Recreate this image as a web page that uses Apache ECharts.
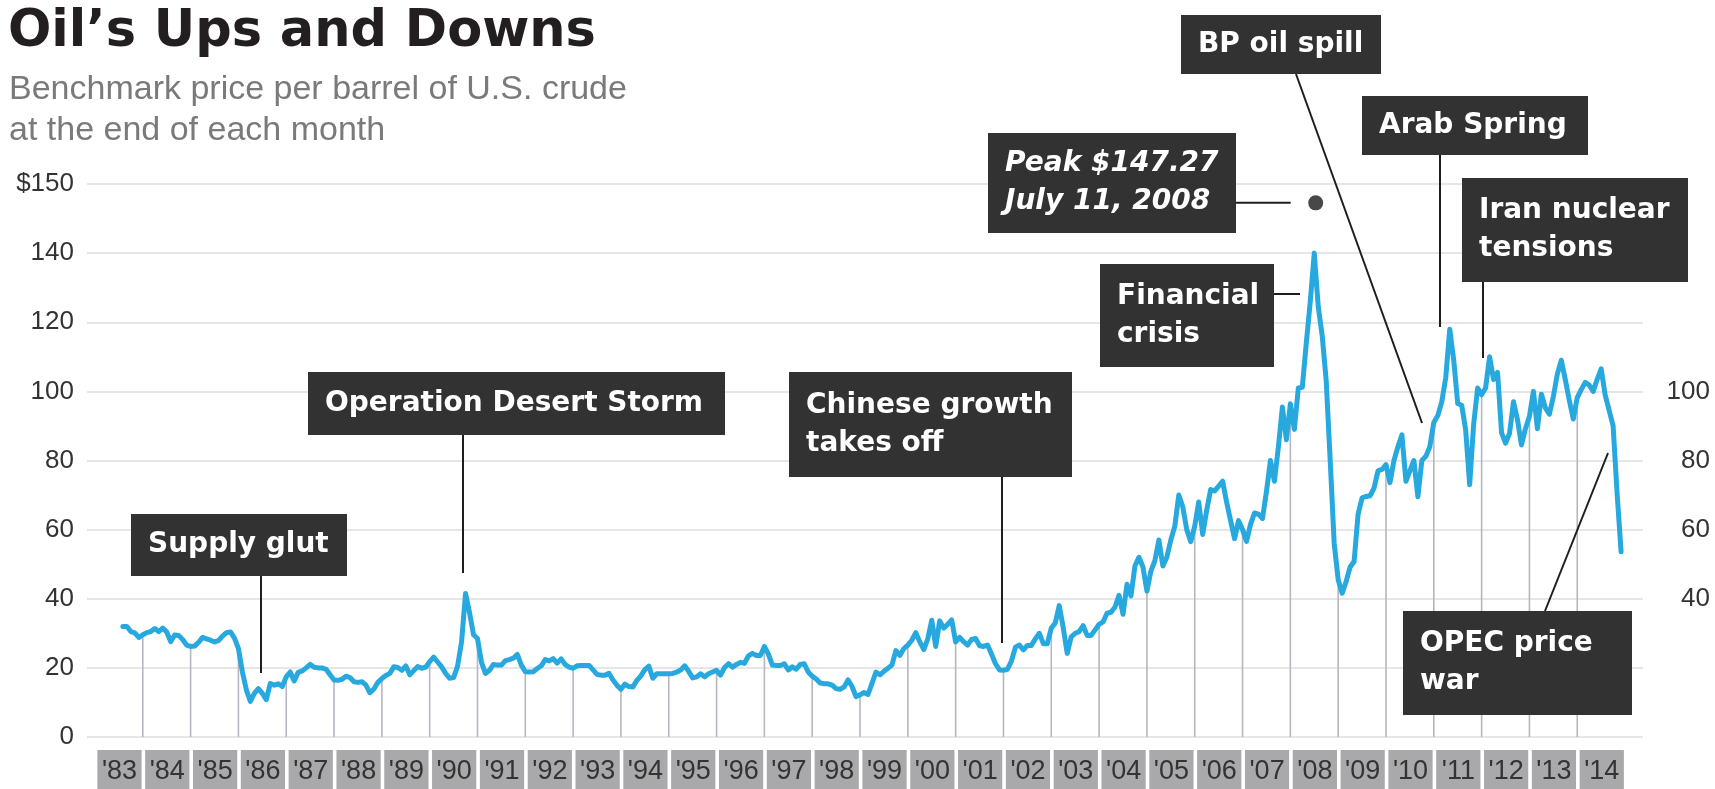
<!DOCTYPE html>
<html>
<head>
<meta charset="utf-8">
<title>Oil's Ups and Downs</title>
<script src="https://cdn.jsdelivr.net/npm/echarts@6/dist/echarts.min.js"></script>
<style>
  html, body { margin: 0; padding: 0; background: #ffffff; }
  #chart { width: 1715px; height: 789px; }
</style>
</head>
<body>
<div id="chart"></div>
<script>
// Month-end benchmark price of U.S. crude, dollars per barrel.
// The first value is the close of July 1983; one value per month after that.
const firstYear = 1983;
const firstMonth = 7;

const closes1983to1989 = [
  32.0, 32.0, 30.5, 30.1, 28.8, 29.6,
  30.2, 30.5, 31.4, 30.5, 31.5, 30.4, 27.6, 29.5, 29.4, 28.2, 26.6, 26.2,
  26.3, 27.4, 28.8, 28.4, 28.0, 27.5, 27.9, 29.2, 30.2, 30.4, 28.6, 25.6,
  18.8, 13.6, 10.3, 12.6, 14.0, 12.6, 10.8, 15.5, 15.0, 15.4, 14.6, 17.4,
  18.8, 16.2, 18.7, 19.1, 20.0, 21.0, 20.2, 20.0, 20.0, 19.6, 18.0, 16.5,
  16.4, 16.7, 17.6, 17.2, 16.0, 15.8, 16.0, 15.0, 12.8, 13.9, 15.8, 16.9,
  17.8, 18.4, 20.3, 20.1, 19.3, 20.6, 18.0, 19.2, 20.4, 19.9, 20.2, 21.8
];

const closes1990s = [
  23.1, 21.7, 20.3, 18.4, 17.0, 17.2, 20.5, 27.5, 41.5, 36.0, 29.6, 28.5,
  21.6, 18.4, 19.3, 21.0, 20.8, 20.8, 22.1, 22.4, 22.8, 23.9, 20.8, 18.9,
  18.8, 18.9, 19.8, 20.6, 22.4, 22.0, 22.7, 21.4, 22.6, 21.0, 20.2, 19.9,
  20.6, 20.7, 20.7, 20.7, 19.4, 18.1, 17.9, 17.9, 18.4, 16.5, 15.0, 13.8,
  15.3, 14.6, 14.5, 16.4, 17.7, 19.5, 20.5, 17.0, 18.3, 18.3, 18.3, 18.3,
  18.4, 18.8, 19.4, 20.6, 19.0, 17.1, 17.4, 18.3, 17.4, 18.3, 18.8, 19.3,
  17.9, 20.1, 21.2, 20.2, 21.0, 21.6, 21.3, 23.5, 24.2, 23.6, 23.6, 26.2,
  24.0, 20.8, 20.7, 20.7, 21.2, 19.4, 20.3, 19.6, 21.0, 21.2, 18.8, 17.6,
  16.8, 15.6, 15.4, 15.4, 15.0, 14.0, 13.8, 14.5, 16.5, 14.6, 11.7, 12.2,
  12.9, 12.3, 15.5, 18.8, 18.0, 19.0, 19.9, 20.8, 25.0, 23.6, 25.6, 26.6
];

const closes2000s = [
  28.0, 30.2, 27.5, 25.3, 28.4, 33.8, 26.2, 33.6, 31.5, 32.6, 33.9, 27.5,
  28.8, 27.6, 26.6, 28.2, 28.5, 26.4, 26.2, 26.6, 24.0, 21.2, 19.4, 19.3,
  19.6, 22.0, 26.0, 26.6, 25.2, 26.5, 26.5, 28.4, 30.0, 27.0, 27.0, 31.5,
  33.0, 38.0, 31.6, 24.2, 29.0, 30.0, 30.5, 32.2, 29.4, 29.4, 31.0, 32.6,
  33.3, 35.8, 36.1, 37.6, 41.0, 35.5, 44.2, 40.8, 49.5, 52.0, 49.2, 42.2,
  48.0, 51.0, 57.0, 49.5, 52.0, 57.0, 61.0, 70.0, 66.6, 60.0, 56.5, 61.0,
  68.0, 58.6, 65.6, 71.6, 71.2, 72.6, 74.0, 68.0, 62.6, 57.4, 62.6, 60.0,
  56.6, 61.5, 64.8, 64.5, 63.2, 71.0, 80.0, 74.0, 84.0, 95.5, 86.0, 96.4,
  89.0, 101.0, 101.2, 114.0, 126.0, 140.0, 124.5, 116.0, 103.0, 80.0, 56.0, 45.5,
  41.6, 45.0, 49.2, 50.8, 64.5, 69.2, 69.6, 69.8, 72.0, 77.0, 77.4, 78.8
];

const closes2010to2014 = [
  73.6, 80.0, 84.0, 87.4, 74.0, 77.0, 80.0, 69.5, 80.0, 81.2, 84.0, 91.0,
  93.0, 97.0, 104.0, 118.0, 109.0, 96.5, 96.0, 88.8, 73.0, 90.5, 101.0, 99.0,
  101.0, 110.0, 103.4, 105.5, 88.0, 85.0, 87.8, 97.0, 91.8, 84.5, 89.2, 92.8,
  100.0, 89.2, 99.2, 95.2, 93.4, 98.5, 105.0, 109.0, 103.4, 97.4, 92.0, 98.2,
  100.5, 102.6, 101.8, 100.0, 103.5, 106.5, 99.0, 94.5, 90.0, 70.5, 53.6
];

const yearLabels = [
  "'83", "'84", "'85", "'86", "'87", "'88", "'89", "'90", "'91", "'92", "'93",
  "'94", "'95", "'96", "'97", "'98", "'99", "'00", "'01", "'02", "'03", "'04",
  "'05", "'06", "'07", "'08", "'09", "'10", "'11", "'12", "'13", "'14"
];

const leftTickValues = [0, 20, 40, 60, 80, 100, 120, 140, 150];
const rightTickValues = [40, 60, 80, 100];

// Intraday record high
const peak = { value: 147.27, year: 2008, month: 7, day: 11, text: 'Peak $147.27\nJuly 11, 2008' };

// Above $140 the price scale is drawn at twice the spacing, so the
// $150 line sits one full step above the $140 line.
const scaleBreak = 140;
const stretch = 2;
function toAxis(v) { return v <= scaleBreak ? v : scaleBreak + (v - scaleBreak) * stretch; }
function fromAxis(a) { return a <= scaleBreak ? a : scaleBreak + (a - scaleBreak) / stretch; }

const closes = [].concat(closes1983to1989, closes1990s, closes2000s, closes2010to2014);
const firstIndex = (firstYear - 1983) * 12 + firstMonth; // months since Jan 1983, at month end

const priceSeries = closes.map((v, i) => [firstIndex + i, toAxis(v)]);

// Gray drop lines at each new year, rising to the December close
const yearEdges = [];
for (let k = 1; k < yearLabels.length; k++) {
  const m = 12 * k;
  const v = closes[m - firstIndex];
  if (v !== undefined) yearEdges.push([m, toAxis(v)]);
}

const yearBands = yearLabels.map((t, k) => [12 * k, 12 * k + 12]);

const peakMonth = (peak.year - 1983) * 12 + (peak.month - 1) + peak.day / 31;

const chart = echarts.init(document.getElementById('chart'), null, { renderer: 'canvas' });

const labelFont = '"Liberation Sans", Arial, sans-serif';
const boxFont = '"DejaVu Sans", sans-serif';
const boxFill = '#323232';
const leaderColor = '#1e1e1e';

// Callout boxes: [x, y, width, height] and leader path, in page pixels
const callouts = [
  { text: 'Supply glut', box: [131, 514, 216, 62], leader: [[261, 576], [261, 673]] },
  { text: 'Operation Desert Storm', box: [308, 372, 417, 63], leader: [[463, 435], [463, 573]] },
  { text: 'Chinese growth\ntakes off', box: [789, 372, 283, 105], leader: [[1002, 477], [1002, 643]] },
  { text: 'BP oil spill', box: [1181, 15, 200, 59], leader: [[1296, 74], [1422, 423]] },
  { text: 'Financial\ncrisis', box: [1100, 264, 174, 103], leader: [[1274, 294], [1300, 294]] },
  { text: 'Arab Spring', box: [1362, 96, 226, 59], leader: [[1440, 155], [1440, 327]] },
  { text: 'Iran nuclear\ntensions', box: [1462, 178, 226, 104], leader: [[1483, 282], [1483, 358]] },
  { text: 'OPEC price\nwar', box: [1403, 611, 229, 104], leader: [[1545, 611], [1608, 453]] }
];
const peakBox = [988, 133, 248, 100];

function calloutElements(c, italic) {
  const [x, y, w, h] = c.box;
  const els = [];
  els.push({
    type: 'rect', z: 100,
    shape: { x: x, y: y, width: w, height: h },
    style: { fill: boxFill }
  });
  els.push({
    type: 'text', z: 101, x: x + 17, y: y + h / 2,
    style: {
      text: c.text, fill: '#ffffff',
      font: (italic ? 'italic ' : '') + 'bold 28px ' + boxFont,
      lineHeight: 38,
      align: 'left', verticalAlign: 'middle',
      textAlign: 'left', textVerticalAlign: 'middle'
    }
  });
  if (c.leader) {
    els.push({
      type: 'polyline', z: 99,
      shape: { points: c.leader },
      style: { stroke: leaderColor, lineWidth: 2, fill: null }
    });
  }
  return els;
}

const option = {
  animation: false,
  backgroundColor: '#ffffff',
  grid: { left: 87, right: 72, top: 184, bottom: 52, containLabel: false },
  xAxis: {
    type: 'value', min: -2, max: 388.5, show: false
  },
  yAxis: [
    {
      type: 'value', min: 0, max: 160, interval: 20, position: 'left',
      axisLine: { show: false }, axisTick: { show: false },
      splitLine: { show: true, lineStyle: { color: '#dedede', width: 1.6 } },
      axisLabel: {
        margin: 13, color: '#333333', fontSize: 26, fontFamily: labelFont,
        formatter: (a) => {
          const v = fromAxis(a);
          if (leftTickValues.indexOf(v) < 0) return '';
          return v === 150 ? '$150' : String(v);
        }
      }
    },
    {
      type: 'value', min: 0, max: 160, interval: 20, position: 'right',
      axisLine: { show: false }, axisTick: { show: false }, splitLine: { show: false },
      axisLabel: {
        margin: 67, align: 'right', color: '#333333', fontSize: 26, fontFamily: labelFont,
        formatter: (a) => (rightTickValues.indexOf(fromAxis(a)) >= 0 ? String(fromAxis(a)) : '')
      }
    }
  ],
  series: [
    {
      type: 'custom', name: 'year lines', z: 1, silent: true,
      data: yearEdges,
      renderItem: (params, api) => {
        const top = api.coord([api.value(0), api.value(1)]);
        const base = api.coord([api.value(0), 0]);
        return {
          type: 'line',
          shape: { x1: base[0], y1: base[1], x2: top[0], y2: top[1] },
          style: { stroke: '#b4b7c1', lineWidth: 1.6 }
        };
      }
    },
    {
      type: 'line', name: 'Month-end price', z: 3,
      data: priceSeries,
      showSymbol: false, symbol: 'none',
      lineStyle: { color: '#27a8df', width: 5, cap: 'round', join: 'round' }
    },
    {
      type: 'custom', name: 'years', z: 2, silent: true, clip: false,
      data: yearBands,
      renderItem: (params, api) => {
        const a = api.coord([api.value(0) + 0.6, 0]);
        const b = api.coord([api.value(1) - 0.3, 0]);
        const top = a[1] + 13;
        return {
          type: 'group',
          children: [
            {
              type: 'rect',
              shape: { x: a[0], y: top, width: b[0] - a[0], height: 50 },
              style: { fill: '#a9a9ab' }
            },
            {
              type: 'text',
              x: (a[0] + b[0]) / 2, y: top + 22,
              style: {
                text: yearLabels[params.dataIndex], fill: '#333333',
                font: '27px ' + labelFont,
                align: 'center', verticalAlign: 'middle',
                textAlign: 'center', textVerticalAlign: 'middle'
              }
            }
          ]
        };
      }
    },
    {
      type: 'scatter', name: 'Peak', z: 5, silent: true,
      data: [[peakMonth, toAxis(peak.value)]],
      symbol: 'circle', symbolSize: 15,
      itemStyle: { color: '#1a1a1a' }
    }
  ]
};

chart.setOption(option);

const dot = chart.convertToPixel({ gridIndex: 0 }, [peakMonth, toAxis(peak.value)]);

let graphics = [
  {
    type: 'text', z: 100, x: 8, y: 33,
    style: {
      text: "Oil\u2019s Ups and Downs", fill: '#231f20',
      font: 'bold 51px ' + boxFont,
      align: 'left', verticalAlign: 'middle', textAlign: 'left', textVerticalAlign: 'middle'
    }
  },
  {
    type: 'text', z: 100, x: 9, y: 90,
    style: {
      text: 'Benchmark price per barrel of U.S. crude', fill: '#7a7a7a',
      font: '34px ' + labelFont,
      align: 'left', verticalAlign: 'middle', textAlign: 'left', textVerticalAlign: 'middle'
    }
  },
  {
    type: 'text', z: 100, x: 9, y: 131,
    style: {
      text: 'at the end of each month', fill: '#7a7a7a',
      font: '34px ' + labelFont,
      align: 'left', verticalAlign: 'middle', textAlign: 'left', textVerticalAlign: 'middle'
    }
  }
];

callouts.forEach((c) => { graphics = graphics.concat(calloutElements(c, false)); });
graphics = graphics.concat(calloutElements({
  text: peak.text, box: peakBox,
  leader: [[peakBox[0] + peakBox[2], dot[1]], [dot[0] - 25, dot[1]]]
}, true));

chart.setOption({ graphic: graphics });
</script>
</body>
</html>
